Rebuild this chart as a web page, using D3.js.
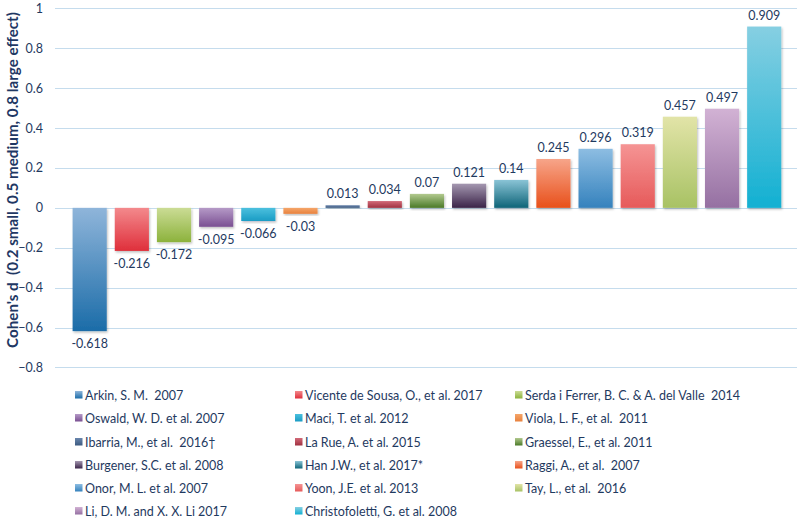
<!DOCTYPE html>
<html><head><meta charset="utf-8">
<script src="https://cdn.jsdelivr.net/npm/d3@7"></script>
<style>body{margin:0;background:#fff}svg{display:block}text{white-space:pre}</style>
</head><body>
<svg id="c" width="800" height="521"></svg>
<script>
const studies = ["Arkin, S. M.  2007","Vicente de Sousa, O., et al. 2017","Serda i Ferrer, B. C. & A. del Valle  2014","Oswald, W. D. et al. 2007","Maci, T. et al. 2012","Viola, L. F., et al.  2011","Ibarria, M., et al.  2016\u2020","La Rue, A. et al. 2015","Graessel, E., et al. 2011","Burgener, S.C. et al. 2008","Han J.W., et al. 2017*","Raggi, A., et al.  2007","Onor, M. L. et al. 2007","Yoon, J.E. et al. 2013","Tay, L., et al.  2016","Li, D. M. and X. X. Li 2017","Christofoletti, G. et al. 2008"];
const values = [-0.618,-0.216,-0.172,-0.095,-0.066,-0.03,0.013,0.034,0.07,0.121,0.14,0.245,0.296,0.319,0.457,0.497,0.909];
const labels = ["-0.618","-0.216","-0.172","-0.095","-0.066","-0.03","0.013","0.034","0.07","0.121","0.14","0.245","0.296","0.319","0.457","0.497","0.909"];
const topColors = ["#8fb5da","#f3898c","#cbdc95","#b59ac7","#4cc0de","#f5a66a","#6a86ad","#d26a78","#b2c98e","#a497b0","#8ac4d6","#f7a58a","#8dbde2","#f59494","#e2e4a8","#d2b2d4","#86cfe2"];
const bottomColors = ["#1b6ca8","#df2f3b","#8cb23c","#7a4f92","#1a9cc4","#e8813d","#3c5a80","#a03040","#4a7a28","#3a2448","#0e6478","#e8501a","#3582bd","#e65a5a","#a8c264","#9570a2","#12b0d2"];
const yTicks = [1,0.8,0.6,0.4,0.2,0,-0.2,-0.4,-0.6,-0.8];
const yTitle = "Cohen's d  (0.2 small, 0.5 medium, 0.8 large effect)";

const svg = d3.select("#c");
const font = "Lato, 'Open Sans', sans-serif";
const txt = "#1f3a5f";
const y = d3.scaleLinear().domain([-0.8,1]).range([367.4,8.4]);
const x = d3.scaleBand().domain(d3.range(values.length)).range([68.6,785.3]).paddingInner(0.19).paddingOuter(0.095);

const defs = svg.append("defs");
values.forEach((v,i)=>{
  const g = defs.append("linearGradient").attr("id","g"+i).attr("x1",0).attr("y1",0).attr("x2",0).attr("y2",1);
  g.append("stop").attr("offset","0%").attr("stop-color",topColors[i]);
  g.append("stop").attr("offset","100%").attr("stop-color",bottomColors[i]);
});
const f = defs.append("filter").attr("id","sh").attr("x","-20%").attr("y","-20%").attr("width","140%").attr("height","140%");
f.append("feDropShadow").attr("dx",1).attr("dy",1.5).attr("stdDeviation",1.2).attr("flood-color","#000").attr("flood-opacity",0.25);

// gridlines
svg.append("g").selectAll("line").data(yTicks).join("line")
  .attr("x1",55).attr("x2",797).attr("y1",d=>Math.round(y(d))+0.5).attr("y2",d=>Math.round(y(d))+0.5)
  .attr("stroke","#c5dced").attr("stroke-width",1);

// y axis labels
const ya = d3.axisLeft(y).tickValues(yTicks).tickSize(0).tickPadding(0).tickFormat(d=>d===0?"0":d3.format("")(d));
const yg = svg.append("g").attr("transform","translate(43,0)").call(ya);
yg.select(".domain").remove();
yg.selectAll("text").attr("font-family",font).attr("font-size",12.5).attr("fill",txt);

// title
svg.append("text").attr("transform","translate(17.5,180) rotate(-90)").attr("text-anchor","middle")
  .attr("font-family",font).attr("font-weight","bold").attr("font-size",15.2).attr("fill","#1f3864").text(yTitle);

// bars
svg.append("g").selectAll("rect").data(values).join("rect")
  .attr("x",(d,i)=>x(i)).attr("width",x.bandwidth())
  .attr("y",d=>y(Math.max(0,d))).attr("height",d=>Math.abs(y(d)-y(0)))
  .attr("fill",(d,i)=>`url(#g${i})`).attr("filter","url(#sh)");

// labels
svg.append("g").selectAll("text").data(values).join("text")
  .attr("x",(d,i)=>x(i)+x.bandwidth()/2)
  .attr("y",d=>d>=0? y(d)-7 : y(d)+17)
  .attr("text-anchor","middle").attr("font-family",font).attr("font-size",12.5).attr("fill",txt)
  .text((d,i)=>labels[i]);

// legend
const colX = [75,295,515];
const rowY = [395,418,442,465,488,511];
const lg = svg.append("g");
studies.forEach((s,i)=>{
  const c = i%3, r = Math.floor(i/3);
  lg.append("rect").attr("x",colX[c]).attr("y",rowY[r]-4).attr("width",7.5).attr("height",7.5).attr("fill",`url(#g${i})`);
  lg.append("text").attr("x",colX[c]+10).attr("y",rowY[r]+4.5).attr("font-family",font).attr("font-size",12.5).attr("fill",txt).text(s);
});
</script>
</body></html>
